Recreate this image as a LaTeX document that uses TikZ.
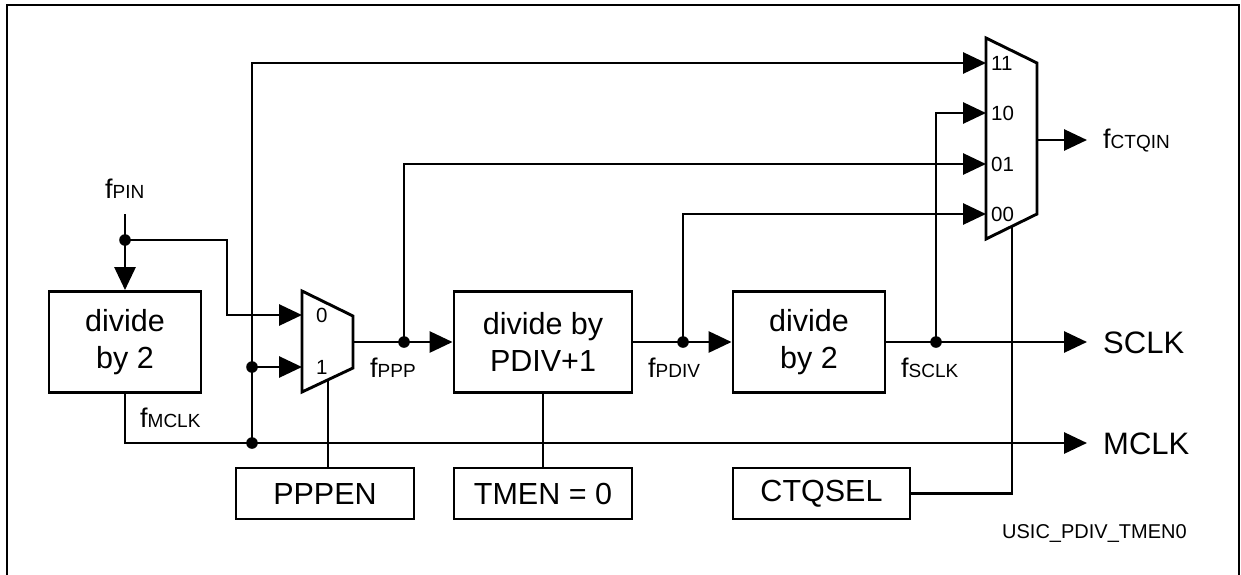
\documentclass[tikz,border=0pt]{standalone}
\usepackage{fontspec}
\setmainfont{Liberation Sans}
\usetikzlibrary{arrows.meta}
\newcommand\fsub[1]{{\fontsize{27}{30}\selectfont f}{\fontsize{19}{22}\selectfont #1}}
\begin{document}
\begin{tikzpicture}[x=1pt,y=-1pt,
 wire/.style={line width=2.9pt},
 arr/.style={wire,-{Triangle[length=23pt,width=21pt]}},
 box/.style={draw,line width=2.9pt,inner sep=0pt,align=center,font=\fontsize{30.5}{37}\selectfont},
 lbl/.style={inner sep=0pt,anchor=base west},
 big/.style={font=\fontsize{31}{36}\selectfont},
 muxlbl/.style={inner sep=0pt,anchor=west,font=\fontsize{20.5}{24}\selectfont},
 jdot/.style={fill=black}]
\useasboundingbox (0,0) rectangle (1241,574);
% frame
\draw[line width=2.7pt] (7,600) -- (7,5) -- (1239,5) -- (1239,600);

% boxes
\node[box,minimum width=152pt,minimum height=101pt] (div1) at (125,342) {divide\\by 2};
\node[box,minimum width=178pt,minimum height=101pt] (div2) at (543,342) {divide by\\PDIV+1};
\node[box,minimum width=152pt,minimum height=101pt] (div3) at (809,342) {divide\\by 2};
\node[box,minimum width=178pt,minimum height=51pt] (pppen) at (325,493.5) {PPPEN};
\node[box,minimum width=178pt,minimum height=51pt] (tmen) at (543,493.5) {TMEN = 0};
\node[box,minimum width=177pt,minimum height=51pt] (ctq) at (821.5,493.5) {CTQSEL};

% mux 1
\draw[wire,line join=miter] (302,291) -- (353,316) -- (353,368) -- (302,392) -- cycle;
\coordinate (m1in0) at (302,315);
\coordinate (m1in1) at (302,367);
\coordinate (m1out) at (353,342);
\coordinate (m1sel) at (328,380);
\node[muxlbl] (m1l0) at (316,315) {0};
\node[muxlbl] (m1l1) at (316,367) {1};

% mux 2
\draw[wire,line join=miter] (986,38) -- (1037,63) -- (1037,214) -- (986,239) -- cycle;
\coordinate (m2in11) at (986,63);
\coordinate (m2in10) at (986,113);
\coordinate (m2in01) at (986,164);
\coordinate (m2in00) at (986,214);
\coordinate (m2out) at (1037,140);
\coordinate (m2sel) at (1012,226);
\node[muxlbl] (m2l11) at (991,63) {11};
\node[muxlbl] (m2l10) at (991,113) {10};
\node[muxlbl] (m2l01) at (991,164) {01};
\node[muxlbl] (m2l00) at (991,214) {00};

% labels
\node[lbl] (fpin) at (105,198) {\fsub{PIN}};
\node[lbl] (fmclk) at (140,427) {\fsub{MCLK}};
\node[lbl] (fppp) at (370,377) {\fsub{PPP}};
\node[lbl] (fpdiv) at (648,377) {\fsub{PDIV}};
\node[lbl] (fsclk) at (901,377) {\fsub{SCLK}};
\node[lbl] (fctqin) at (1103,148) {\fsub{CTQIN}};
\node[lbl,big] (sclk) at (1103,353) {SCLK};
\node[lbl,big] (mclk) at (1103,454) {MCLK};
\node[lbl,font=\fontsize{20}{24}\selectfont] (fig) at (1002,538) {USIC\_PDIV\_TMEN0};

% junctions and ends
\coordinate (pinTop) at (125,214);
\coordinate (jPIN) at (125,240);
\coordinate (c1) at (227,240);
\coordinate (jM) at (252,443);
\coordinate (jM1) at (252,367);
\coordinate (jP) at (404,342);
\coordinate (jD) at (683,342);
\coordinate (jS) at (936,342);
\coordinate (sclkend) at (1087,342);
\coordinate (mclkend) at (1087,443);
\coordinate (ctqend) at (1087,140);

% connectors
\draw[arr] (pinTop) -- (div1.north);
\draw[arr] (jPIN) -- (c1) |- (m1in0);
\draw[arr] (div1.south) |- (mclkend);
\draw[arr] (jM) |- (m2in11);
\draw[arr] (jM1) -- (m1in1);
\draw[arr] (m1out) -- (div2.west);
\draw[arr] (jP) |- (m2in01);
\draw[arr] (div2.east) -- (div3.west);
\draw[arr] (jD) |- (m2in00);
\draw[arr] (div3.east) -- (sclkend);
\draw[arr] (jS) |- (m2in10);
\draw[arr] (m2out) -- (ctqend);
\draw[wire] (m1sel) -- (m1sel |- pppen.north);
\draw[wire] (div2.south) -- (tmen.north);
\draw[wire] (ctq.east) -| (m2sel);

% dots
\foreach \p in {jPIN,jM,jM1,jP,jD,jS} \fill[jdot] (\p) circle[radius=5.8pt];
\end{tikzpicture}
\end{document}
